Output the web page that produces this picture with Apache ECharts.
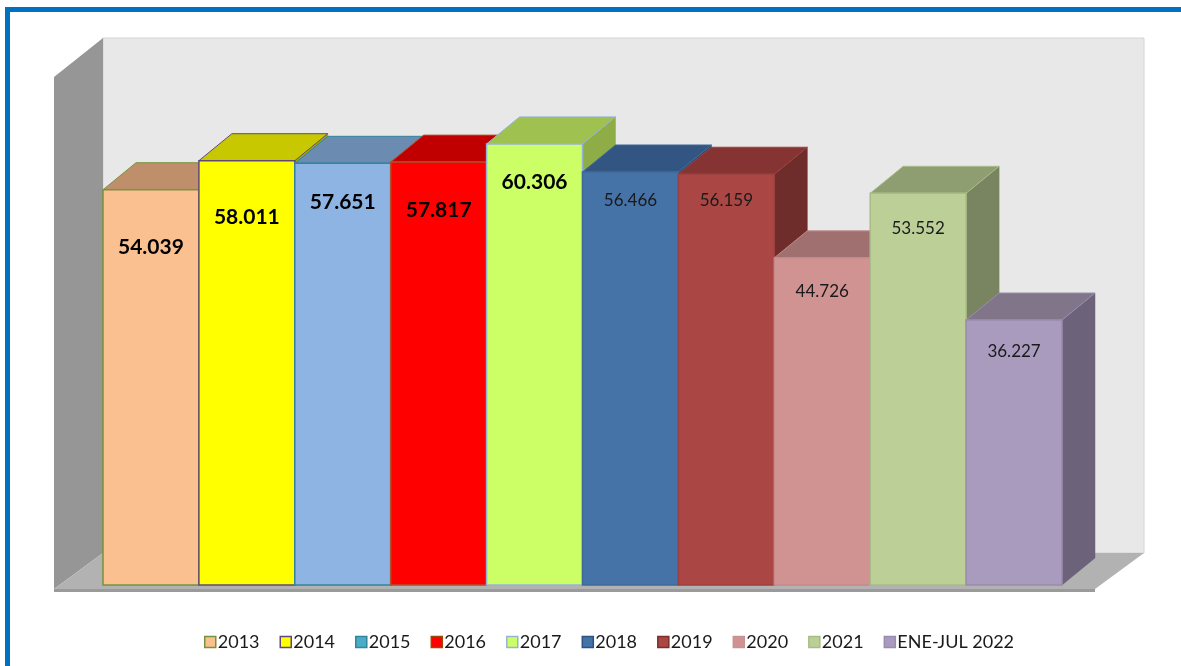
<!DOCTYPE html>
<html>
<head>
<meta charset="utf-8">
<title>Serie anual</title>
<script src="https://cdn.jsdelivr.net/npm/echarts@6/dist/echarts.min.js"></script>
<style>
    html, body { margin: 0; padding: 0; background: #fff; }
    #marco {
        position: absolute; left: 5px; top: 7px; width: 1181px; height: 666px;
        border-top: 5px solid #0070C0; border-left: 5px solid #0070C0;
        box-sizing: border-box; pointer-events: none;
    }
    #chart { position: absolute; left: 0; top: 0; width: 1181px; height: 666px; }
</style>
</head>
<body>
<div id="chart"></div>
<div id="marco"></div>
<script>
        // datos
        const categorias = ['2013', '2014', '2015', '2016', '2017', '2018', '2019', '2020', '2021', 'ENE-JUL 2022'];
        const valores = [54.039, 58.011, 57.651, 57.817, 60.306, 56.466, 56.159, 44.726, 53.552, 36.227];
        const etiquetas = ['54.039', '58.011', '57.651', '57.817', '60.306', '56.466', '56.159', '44.726', '53.552', '36.227'];

        // colores de cada barra: frente, tapa, lado, borde
        const colorFrente = ['#FAC090', '#FFFF00', '#8EB4E3', '#FF0000', '#CCFF66', '#4572A7', '#AA4643', '#D19392', '#BBCF97', '#A99BBD'];
        const colorTapa = ['#BF8F6B', '#C8C800', '#6C8BB0', '#C00000', '#9EC150', '#325581', '#853433', '#A06F6F', '#8E9E70', '#807589'];
        const colorLado = ['#A87A58', '#A6A600', '#5A7598', '#A00000', '#8EAD47', '#2B4A70', '#6E2C2B', '#8A5E5E', '#788560', '#6C627A'];
        const colorBorde = ['#77933C', '#5F497A', '#31859C', '#B0502A', '#95B3D7', '#3F6A9C', '#9E403D', '#C48A89', '#A8BC88', '#9A8CAE'];
        // colores de la leyenda
        const leyendaRelleno = ['#FAC090', '#FFFF00', '#4BACC6', '#FF0000', '#CCFF66', '#4572A7', '#AA4643', '#D19392', '#BBCF97', '#A99BBD'];
        const leyendaBorde = ['#77933C', '#5F497A', '#31859C', '#984807', '#95B3D7', '#2C5282', '#7A2F2D', '#C49594', '#A8BC88', '#9A8CAE'];
        // estilo de las etiquetas (las 5 primeras en negrita) y distancia bajo la tapa
        const etiquetaNegrita = [true, true, true, true, true, false, false, false, false, false];
        const etiquetaBajada = [57, 57, 39, 48, 38, 29, 26, 34, 35, 31];

        const PROF_X = 33, PROF_Y = -27;   // profundidad de las barras

        const chartDom = document.getElementById('chart');
        const myChart = echarts.init(chartDom);

        // paredes y suelo del gráfico 3D
        function dibujarParedes(params, api) {
            const cs = params.coordSys;
            const x0 = cs.x, base = cs.y + cs.height, der = cs.x + cs.width;
            const fy = base + 4, fx = x0 - 49, atrasY = fy - 36;
            return {
                type: 'group',
                children: [
                    { type: 'rect', shape: { x: x0, y: cs.y - 35, width: der + 82 - x0, height: atrasY - (cs.y - 35) },
                      style: { fill: '#E8E8E8', stroke: '#D4D4D4', lineWidth: 1 } },
                    { type: 'polygon', shape: { points: [[fx, cs.y + 4], [x0, cs.y - 35], [x0, atrasY], [fx, fy]] },
                      style: { fill: '#969696' } },
                    { type: 'polygon', shape: { points: [[fx, fy], [x0, atrasY], [der + 82, atrasY], [der + 33, fy]] },
                      style: { fill: '#B2B2B2' } },
                    { type: 'rect', shape: { x: fx, y: fy, width: der + 33 - fx, height: 3 },
                      style: { fill: '#9A9A9A' } }
                ]
            };
        }

        // barra 3D para un año
        function dibujarBarra(i) {
            return function(params, api) {
                const p = api.coord([api.value(0), api.value(1)]);
                const b = api.coord([api.value(0), 0]);
                const w = api.size([1, 0])[0];
                const x = p[0] - w / 2, top = p[1], base = b[1];
                const negrita = etiquetaNegrita[i];
                return {
                    type: 'group',
                    children: [
                        { type: 'polygon',
                          shape: { points: [[x + w, top], [x + w + PROF_X, top + PROF_Y], [x + w + PROF_X, base + PROF_Y], [x + w, base]] },
                          style: { fill: colorLado[i], stroke: colorLado[i], lineWidth: 0.5 } },
                        { type: 'polygon',
                          shape: { points: [[x, top], [x + PROF_X, top + PROF_Y], [x + w + PROF_X, top + PROF_Y], [x + w, top]] },
                          style: { fill: colorTapa[i], stroke: colorBorde[i], lineWidth: 1 } },
                        { type: 'rect', shape: { x: x, y: top, width: w, height: base - top },
                          style: { fill: colorFrente[i], stroke: colorBorde[i], lineWidth: 1.5 } },
                        { type: 'text', x: x + w / 2, y: top + etiquetaBajada[i],
                          style: { text: etiquetas[i], align: 'center', verticalAlign: 'middle',
                                   fontFamily: 'Lato', fontSize: negrita ? 21 : 17,
                                   fontWeight: negrita ? 'bold' : 'normal',
                                   fill: negrita ? '#000' : '#1a1a1a' } }
                    ]
                };
            };
        }

        const series = [{
            name: 'paredes',
            type: 'custom',
            renderItem: dibujarParedes,
            data: [[0, 0]],
            clip: false,
            silent: true,
            z: 1
        }];
        categorias.forEach(function(c, i) {
            series.push({
                name: c,
                type: 'custom',
                renderItem: dibujarBarra(i),
                data: [[i, valores[i]]],
                itemStyle: { color: leyendaRelleno[i], borderColor: leyendaBorde[i] },
                clip: false,
                z: 2
            });
        });

        const option = {
            animation: false,
            grid: { left: 103, right: 119, top: 73, bottom: 81 },
            xAxis: { type: 'category', data: categorias, show: false },
            yAxis: { type: 'value', min: 0, max: 70, show: false },
            legend: {
                left: 199,
                top: 628,
                itemWidth: 11,
                itemHeight: 11,
                itemGap: 20,
                textStyle: { fontFamily: 'Lato', fontSize: 18, color: '#1a1a1a', padding: [0, 0, 0, -3] },
                data: categorias.map(function(c, i) {
                    return { name: c, icon: 'rect',
                             itemStyle: { color: leyendaRelleno[i], borderColor: leyendaBorde[i], borderWidth: 1.5 } };
                })
            },
            series: series
        };

        myChart.setOption(option);

        window.addEventListener('resize', function() {
            myChart.resize();
        });
</script>
</body>
</html>
